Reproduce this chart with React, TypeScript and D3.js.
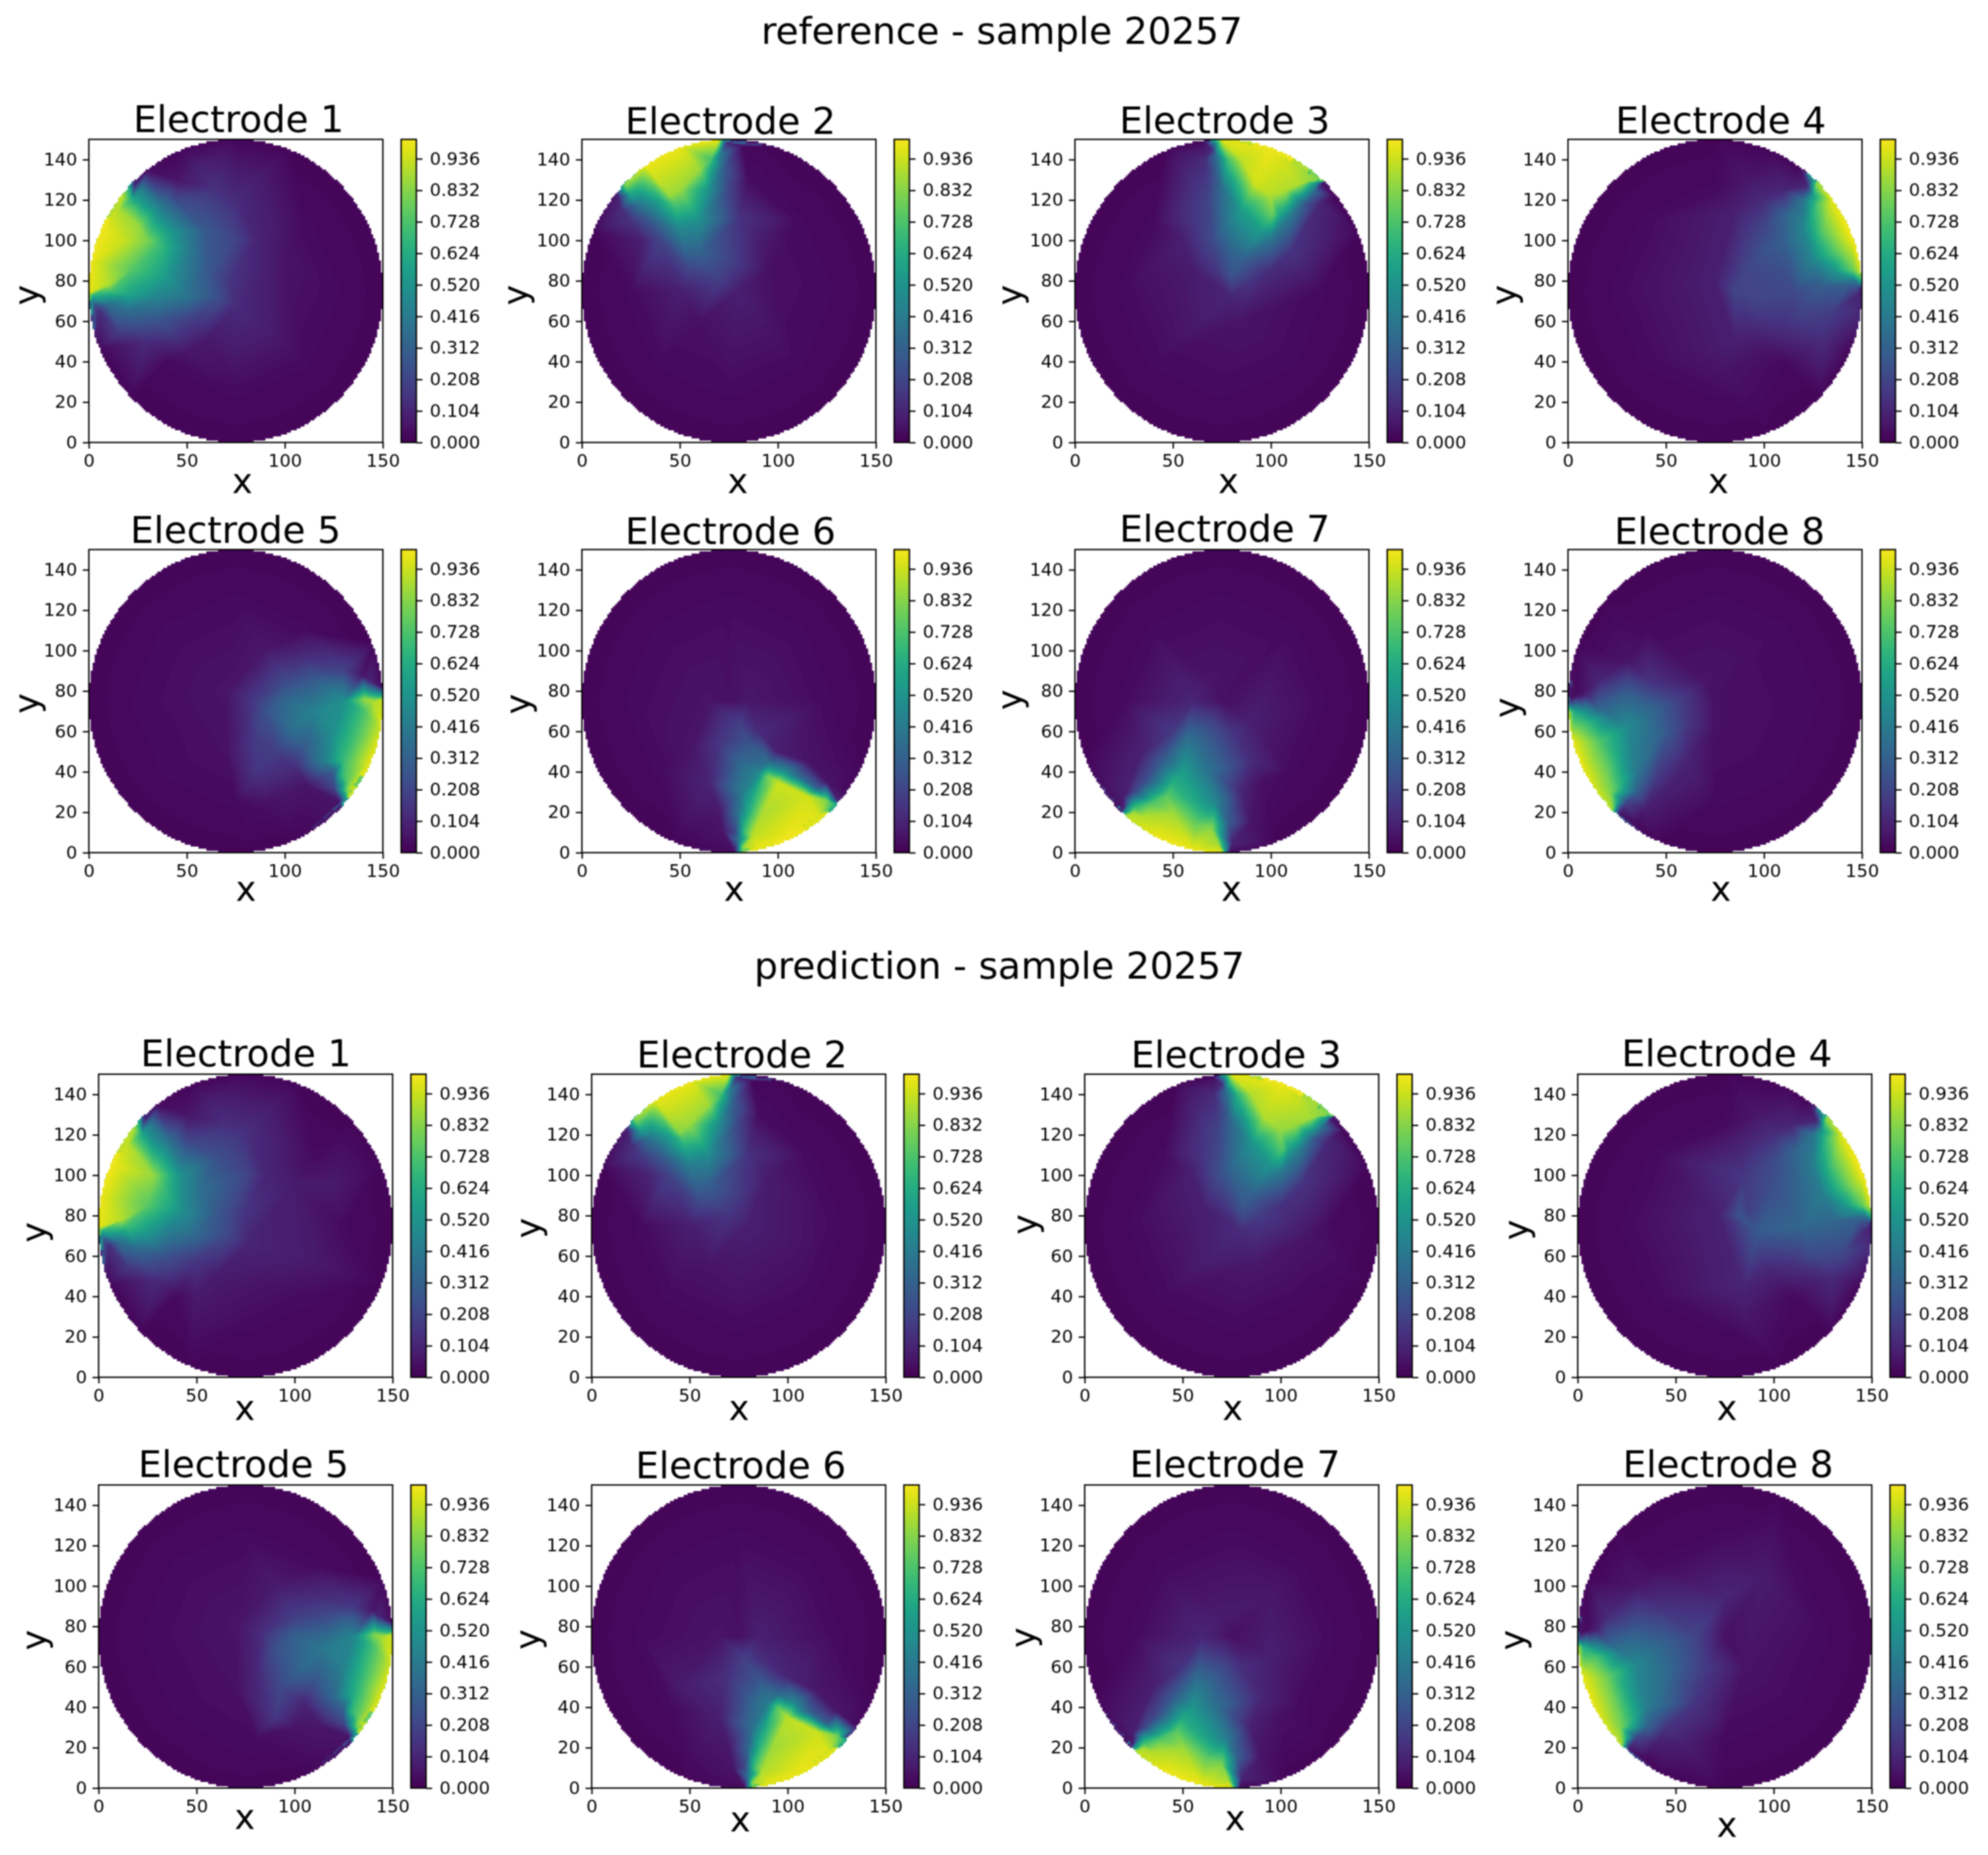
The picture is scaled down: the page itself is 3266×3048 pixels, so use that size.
import * as d3 from "d3";
import { useEffect, useRef } from "react";

type Sample = [number, number, number];

const electrodeNames = [
  "Electrode 1", "Electrode 2", "Electrode 3", "Electrode 4",
  "Electrode 5", "Electrode 6", "Electrode 7", "Electrode 8",
];
const axisTicksX = [0, 50, 100, 150];
const axisTicksY = [0, 20, 40, 60, 80, 100, 120, 140];
const colorbarTicks = [0, 0.104, 0.208, 0.312, 0.416, 0.52, 0.624, 0.728, 0.832, 0.936];

// low field shared by all panels, dropped where a panel has its own samples nearby
const backgroundSamples: Sample[] = [
  [152, 75, 0.01], [146, 104, 0.01], [129, 129, 0.01], [104, 146, 0.01],
  [75, 152, 0.01], [46, 146, 0.01], [21, 129, 0.01], [4, 104, 0.01],
  [-2, 75, 0.01], [4, 46, 0.01], [21, 21, 0.01], [46, 4, 0.01],
  [75, -2, 0.01], [104, 4, 0.01], [129, 21, 0.01], [146, 46, 0.01],
  [125, 75, 0.025], [110, 110, 0.025], [75, 125, 0.025], [40, 110, 0.025],
  [25, 75, 0.025], [40, 40, 0.025], [75, 25, 0.025], [110, 40, 0.025], [75, 75, 0.04],
];

// [x, y, value]
const ref1: Sample[] = [
  [21, 128, 0.55], [17, 122, 0.9], [8, 105, 0.97], [1, 90, 0.97], [0, 74, 0.96], [1, 72, 0.6], [2, 69, 0.3], [5, 65, 0.12],
  [23, 128, 0.05], [26, 125, 0.45], [22, 120, 0.62], [15, 115, 0.88], [20, 100, 0.9], [25, 108, 0.84], [30, 100, 0.8], [36, 97, 0.68],
  [23, 116, 0.72], [28, 118, 0.54], [37, 118, 0.38], [45, 120, 0.22], [44, 104, 0.5], [52, 95, 0.4], [60, 85, 0.28], [72, 80, 0.15],
  [40, 80, 0.52], [22, 86, 0.74], [10, 78, 0.88], [12, 75, 0.7], [20, 73, 0.58], [35, 72, 0.45], [50, 72, 0.38], [65, 72, 0.25],
  [75, 68, 0.12], [10, 68, 0.35], [20, 65, 0.35], [35, 62, 0.28], [50, 60, 0.18], [15, 55, 0.18], [30, 50, 0.12], [50, 45, 0.06],
  [65, 125, 0.14], [58, 135, 0.1], [45, 130, 0.05], [30, 135, 0.03], [75, 120, 0.12], [85, 100, 0.1], [100, 90, 0.05], [75, 100, 0.2],
  [60, 105, 0.27], [50, 115, 0.25], [60, 50, 0.06],
];
const ref2: Sample[] = [
  [20, 125, 0.5], [22, 128, 0.85], [32, 137, 0.97], [50, 147, 0.97], [70, 150, 0.97], [72, 150, 0.6], [74, 149, 0.1], [18, 122, 0.08],
  [25, 122, 0.55], [45, 122, 0.85], [47, 118, 0.72], [50, 125, 0.85], [60, 135, 0.85], [66, 140, 0.7], [70, 142, 0.45], [72, 135, 0.3],
  [75, 125, 0.2], [80, 110, 0.15], [90, 100, 0.08], [40, 120, 0.6], [30, 118, 0.4], [35, 110, 0.28], [50, 105, 0.45], [60, 110, 0.5],
  [65, 125, 0.5], [60, 95, 0.32], [55, 85, 0.2], [65, 85, 0.22], [70, 80, 0.18], [75, 90, 0.2], [40, 100, 0.2], [25, 110, 0.15],
  [30, 100, 0.08], [50, 75, 0.08], [80, 75, 0.08], [20, 115, 0.12], [85, 130, 0.03], [95, 85, 0.04], [60, 60, 0.04], [18, 128, 0.02], [82, 147, 0.02],
];
const ref3: Sample[] = [
  [72, 148, 0.5], [75, 150, 0.95], [100, 145, 0.97], [125, 130, 0.8], [124, 129, 0.5], [126, 128, 0.05], [70, 145, 0.12], [66, 140, 0.12],
  [72, 142, 0.35], [78, 140, 0.7], [85, 140, 0.9], [92, 128, 0.93], [100, 122, 0.88], [101, 113, 0.78], [108, 125, 0.88], [115, 128, 0.88],
  [122, 124, 0.35], [125, 118, 0.1], [118, 118, 0.25], [110, 112, 0.4], [105, 112, 0.55], [100, 100, 0.37], [95, 105, 0.55], [85, 115, 0.55], [80, 128, 0.55],
  [75, 125, 0.35], [68, 120, 0.2], [60, 110, 0.15], [70, 100, 0.22], [80, 95, 0.32], [85, 90, 0.3], [80, 82, 0.25], [90, 80, 0.15],
  [72, 85, 0.15], [100, 85, 0.12], [110, 95, 0.15], [55, 100, 0.08], [85, 60, 0.05], [60, 85, 0.07], [80, 72, 0.1], [65, 149, 0.02], [132, 122, 0.02],
];
const ref4: Sample[] = [
  [125, 130, 0.5], [127, 128, 0.85], [135, 120, 0.96], [145, 100, 0.97], [150, 85, 0.95], [150, 79, 0.6], [148, 78, 0.3], [150, 76, 0.08],
  [122, 127, 0.1], [110, 125, 0.1], [115, 122, 0.25], [120, 120, 0.38], [125, 122, 0.55], [128, 118, 0.75], [130, 105, 0.75], [140, 95, 0.82],
  [145, 85, 0.75], [142, 82, 0.5], [135, 85, 0.5], [125, 90, 0.45], [120, 105, 0.45], [110, 100, 0.3], [100, 95, 0.25], [90, 85, 0.2],
  [85, 75, 0.2], [95, 70, 0.2], [115, 75, 0.22], [130, 78, 0.3], [143, 78, 0.3], [147, 72, 0.1], [148, 65, 0.12], [135, 65, 0.18],
  [120, 65, 0.2], [130, 50, 0.12], [110, 55, 0.12], [95, 55, 0.1], [85, 50, 0.08], [90, 100, 0.16], [85, 115, 0.08], [100, 120, 0.12],
  [92, 130, 0.06], [75, 80, 0.08], [80, 35, 0.05], [112, 112, 0.33], [100, 108, 0.2], [118, 136, 0.02],
];
const ref5: Sample[] = [
  [150, 82, 0.03], [150, 78, 0.55], [147, 80, 0.4], [143, 85, 0.1], [150, 76, 0.9], [150, 60, 0.95], [143, 45, 0.95], [133, 30, 0.9],
  [130, 25, 0.5], [128, 25, 0.05], [141, 76, 0.85], [145, 75, 0.88], [140, 70, 0.7], [135, 55, 0.7], [130, 45, 0.68], [128, 38, 0.6],
  [132, 35, 0.75], [125, 32, 0.2], [125, 40, 0.3], [120, 45, 0.42], [110, 52, 0.28], [105, 42, 0.12], [100, 30, 0.06], [130, 75, 0.5],
  [125, 60, 0.5], [115, 70, 0.44], [100, 75, 0.33], [105, 62, 0.38], [90, 70, 0.25], [85, 75, 0.17], [100, 85, 0.22], [115, 88, 0.25],
  [130, 90, 0.2], [140, 88, 0.05], [110, 97, 0.12], [95, 50, 0.18], [85, 40, 0.15], [85, 55, 0.17], [80, 65, 0.12], [90, 30, 0.08], [70, 50, 0.04], [70, 80, 0.05],
  [90, 100, 0.06], [112, 33, 0.05], [85, 22, 0.03],
];
const ref6: Sample[] = [
  [80, 0, 0.5], [78, 0, 0.03], [82, 2, 0.85], [90, 3, 0.96], [105, 8, 0.97], [120, 18, 0.95], [130, 24, 0.6], [131, 25, 0.1],
  [95, 38, 0.78], [100, 35, 0.92], [115, 28, 0.93], [125, 26, 0.8], [120, 32, 0.3], [110, 38, 0.35], [103, 40, 0.5], [95, 45, 0.35],
  [90, 40, 0.45], [88, 30, 0.6], [85, 20, 0.62], [83, 10, 0.7], [92, 20, 0.87], [87, 8, 0.9], [80, 6, 0.4], [78, 10, 0.2], [80, 20, 0.38], [82, 30, 0.42],
  [80, 45, 0.32], [85, 55, 0.25], [80, 65, 0.18], [90, 60, 0.12], [70, 55, 0.15], [65, 35, 0.1], [70, 20, 0.06], [72, 10, 0.05],
  [100, 50, 0.08], [125, 35, 0.05], [115, 45, 0.05], [65, 75, 0.05], [85, 75, 0.06], [55, 50, 0.05], [136, 30, 0.02],
];
const ref7: Sample[] = [
  [25, 20, 0.45], [24, 21, 0.05], [26, 18, 0.9], [40, 8, 0.97], [60, 1, 0.97], [75, 0, 0.95], [77, 1, 0.5], [79, 0, 0.03],
  [30, 23, 0.65], [30, 20, 0.85], [28, 25, 0.4], [35, 18, 0.88], [40, 25, 0.72], [47, 28, 0.75], [50, 20, 0.85], [50, 35, 0.62],
  [55, 40, 0.55], [60, 25, 0.62], [62, 15, 0.75], [70, 12, 0.82], [73, 5, 0.85], [75, 8, 0.5], [80, 5, 0.1], [78, 15, 0.3],
  [72, 25, 0.45], [68, 40, 0.38], [65, 55, 0.32], [57, 55, 0.38], [45, 45, 0.3], [35, 35, 0.22], [30, 30, 0.2], [25, 28, 0.08],
  [70, 65, 0.2], [80, 60, 0.15], [90, 45, 0.12], [85, 30, 0.1], [90, 15, 0.05], [95, 35, 0.04], [50, 60, 0.17], [35, 50, 0.09],
  [70, 85, 0.05], [60, 75, 0.1], [90, 65, 0.08],
];
const ref8: Sample[] = [
  [0, 73, 0.5], [1, 76, 0.05], [3, 70, 0.6], [0, 70, 0.9], [2, 55, 0.97], [10, 35, 0.97], [22, 20, 0.9], [24, 20, 0.5],
  [26, 19, 0.05], [8, 70, 0.5], [10, 65, 0.65], [15, 55, 0.75], [20, 40, 0.78], [22, 30, 0.8], [25, 25, 0.6], [30, 25, 0.2],
  [35, 30, 0.3], [35, 40, 0.4], [25, 50, 0.6], [30, 62, 0.48], [22, 68, 0.38], [15, 72, 0.3], [10, 78, 0.1], [5, 78, 0.03],
  [15, 85, 0.1], [30, 80, 0.28], [45, 72, 0.3], [50, 60, 0.28], [55, 75, 0.2], [62, 65, 0.15], [42, 85, 0.14], [60, 45, 0.1],
  [45, 35, 0.15], [40, 22, 0.08], [35, 15, 0.03], [50, 30, 0.08], [75, 60, 0.04], [70, 85, 0.05], [30, 95, 0.05],
];

// same, read from the prediction row
const pred1: Sample[] = [
  [21, 128, 0.55], [18, 123, 0.88], [8, 105, 0.97], [1, 90, 0.97], [0, 74, 0.96], [1, 72, 0.6], [2, 69, 0.3], [5, 65, 0.12],
  [23, 128, 0.06], [26, 125, 0.42], [22, 120, 0.6], [15, 115, 0.9], [22, 108, 0.85], [28, 100, 0.84], [32, 95, 0.72], [25, 85, 0.74],
  [12, 78, 0.88], [14, 75, 0.7], [22, 73, 0.58], [28, 118, 0.48], [37, 118, 0.33], [45, 118, 0.2], [42, 100, 0.5], [52, 92, 0.36],
  [62, 82, 0.26], [74, 80, 0.15], [42, 82, 0.5], [36, 72, 0.42], [50, 70, 0.33], [65, 70, 0.22], [76, 66, 0.1], [10, 67, 0.35],
  [20, 63, 0.33], [35, 60, 0.25], [50, 58, 0.16], [15, 55, 0.17], [30, 48, 0.12], [50, 42, 0.07], [65, 125, 0.13], [58, 135, 0.09],
  [45, 130, 0.05], [30, 135, 0.03], [75, 122, 0.13], [85, 100, 0.1], [100, 95, 0.07], [120, 95, 0.07], [76, 100, 0.2], [60, 108, 0.25],
  [50, 115, 0.22], [60, 50, 0.07], [80, 45, 0.05], [115, 55, 0.06],
];
const pred2: Sample[] = [
  [20, 125, 0.5], [22, 128, 0.85], [32, 137, 0.96], [50, 147, 0.97], [70, 150, 0.96], [72, 150, 0.6], [74, 149, 0.1], [18, 122, 0.08],
  [25, 122, 0.55], [45, 121, 0.82], [47, 117, 0.68], [50, 125, 0.85], [60, 135, 0.85], [66, 140, 0.7], [70, 142, 0.45], [72, 135, 0.3],
  [75, 125, 0.2], [80, 110, 0.14], [90, 100, 0.07], [40, 120, 0.58], [30, 118, 0.38], [35, 110, 0.28], [50, 105, 0.42], [60, 110, 0.48],
  [65, 125, 0.48], [60, 95, 0.3], [55, 85, 0.2], [65, 85, 0.2], [70, 80, 0.15], [75, 90, 0.17], [40, 100, 0.2], [25, 110, 0.17],
  [30, 100, 0.1], [50, 75, 0.08], [80, 75, 0.08], [20, 115, 0.12], [85, 130, 0.03], [105, 65, 0.05], [60, 55, 0.05], [75, 45, 0.05], [18, 128, 0.02], [82, 147, 0.02],
];
const pred3: Sample[] = [
  [72, 148, 0.5], [75, 150, 0.95], [100, 145, 0.97], [125, 130, 0.8], [124, 129, 0.5], [126, 128, 0.05], [70, 145, 0.12], [66, 140, 0.12],
  [72, 142, 0.35], [78, 140, 0.65], [85, 140, 0.88], [92, 128, 0.88], [100, 122, 0.84], [101, 113, 0.74], [108, 125, 0.85], [115, 128, 0.86],
  [122, 124, 0.35], [125, 118, 0.1], [118, 118, 0.25], [110, 112, 0.4], [105, 112, 0.52], [100, 100, 0.37], [95, 105, 0.52], [85, 115, 0.5], [80, 128, 0.5],
  [75, 125, 0.33], [68, 120, 0.2], [60, 110, 0.15], [70, 100, 0.25], [80, 95, 0.32], [85, 90, 0.3], [80, 82, 0.25], [90, 80, 0.17],
  [72, 85, 0.16], [100, 85, 0.14], [110, 95, 0.15], [55, 100, 0.08], [85, 55, 0.06], [60, 85, 0.08], [115, 70, 0.05], [80, 72, 0.12], [65, 149, 0.02], [132, 122, 0.02],
];
const pred4: Sample[] = [
  [125, 130, 0.5], [127, 128, 0.85], [135, 120, 0.96], [145, 100, 0.97], [150, 85, 0.95], [150, 79, 0.6], [148, 78, 0.3], [150, 76, 0.08],
  [122, 127, 0.1], [110, 125, 0.1], [115, 122, 0.28], [120, 120, 0.38], [125, 122, 0.55], [128, 118, 0.72], [130, 105, 0.72], [140, 95, 0.82],
  [145, 85, 0.75], [142, 82, 0.5], [135, 85, 0.5], [125, 90, 0.42], [120, 105, 0.42], [110, 100, 0.3], [100, 95, 0.24], [87, 83, 0.18],
  [82, 80, 0.25], [92, 72, 0.28], [115, 75, 0.33], [130, 78, 0.33], [143, 78, 0.3], [147, 72, 0.1], [148, 65, 0.13], [135, 62, 0.22],
  [120, 60, 0.22], [130, 50, 0.12], [110, 55, 0.13], [95, 55, 0.12], [85, 45, 0.1], [85, 100, 0.16], [85, 115, 0.1], [100, 120, 0.13],
  [92, 130, 0.06], [72, 80, 0.09], [85, 30, 0.06], [112, 112, 0.33], [100, 108, 0.22], [118, 136, 0.02],
];
const pred5: Sample[] = [
  [150, 82, 0.03], [150, 78, 0.55], [147, 80, 0.4], [143, 85, 0.1], [150, 76, 0.92], [150, 60, 0.95], [143, 45, 0.93], [133, 30, 0.88],
  [130, 25, 0.5], [128, 25, 0.05], [141, 76, 0.82], [145, 75, 0.88], [140, 70, 0.7], [135, 55, 0.68], [130, 45, 0.62], [128, 38, 0.6],
  [132, 35, 0.75], [125, 32, 0.2], [125, 40, 0.32], [120, 45, 0.33], [110, 52, 0.25], [105, 42, 0.1], [100, 30, 0.05], [130, 75, 0.45],
  [125, 60, 0.44], [115, 70, 0.4], [100, 75, 0.3], [105, 60, 0.34], [90, 70, 0.24], [83, 78, 0.12], [100, 85, 0.18], [120, 88, 0.2],
  [130, 90, 0.16], [140, 88, 0.06], [110, 95, 0.12], [93, 50, 0.22], [90, 35, 0.16], [80, 55, 0.1], [70, 50, 0.04], [70, 80, 0.05],
  [90, 100, 0.07], [112, 32, 0.06], [80, 25, 0.03],
];
const pred6: Sample[] = [
  [80, 0, 0.5], [78, 0, 0.03], [82, 2, 0.85], [90, 3, 0.95], [105, 8, 0.96], [120, 18, 0.95], [130, 24, 0.6], [131, 25, 0.1],
  [95, 40, 0.75], [100, 35, 0.9], [115, 28, 0.92], [125, 26, 0.8], [120, 32, 0.3], [110, 38, 0.33], [103, 42, 0.48], [95, 47, 0.33],
  [90, 42, 0.42], [88, 30, 0.58], [85, 20, 0.62], [83, 10, 0.7], [92, 20, 0.85], [87, 8, 0.88], [80, 6, 0.4], [78, 10, 0.2], [80, 20, 0.33], [82, 30, 0.36],
  [80, 45, 0.28], [85, 55, 0.25], [78, 65, 0.18], [90, 62, 0.12], [68, 55, 0.13], [65, 35, 0.08], [70, 20, 0.06], [72, 10, 0.05],
  [100, 55, 0.1], [125, 38, 0.06], [115, 48, 0.06], [65, 75, 0.05], [85, 75, 0.08], [45, 50, 0.07], [100, 75, 0.06], [136, 30, 0.02],
];
const pred7: Sample[] = [
  [25, 20, 0.45], [24, 21, 0.05], [26, 18, 0.9], [40, 8, 0.97], [60, 1, 0.97], [75, 0, 0.95], [77, 1, 0.5], [79, 0, 0.03],
  [30, 23, 0.65], [30, 20, 0.85], [28, 25, 0.4], [35, 18, 0.88], [40, 25, 0.72], [47, 28, 0.75], [50, 20, 0.85], [50, 35, 0.6],
  [55, 40, 0.52], [60, 25, 0.6], [62, 15, 0.75], [70, 12, 0.8], [73, 5, 0.85], [75, 8, 0.5], [80, 5, 0.1], [78, 15, 0.3],
  [72, 25, 0.42], [68, 40, 0.35], [65, 55, 0.3], [57, 55, 0.34], [45, 45, 0.28], [35, 35, 0.2], [30, 30, 0.2], [25, 28, 0.08],
  [70, 62, 0.2], [80, 60, 0.13], [90, 45, 0.1], [85, 30, 0.08], [90, 15, 0.05], [100, 35, 0.04], [50, 60, 0.15], [35, 50, 0.08],
  [70, 85, 0.07], [60, 75, 0.1], [95, 65, 0.08], [95, 95, 0.06],
];
const pred8: Sample[] = [
  [0, 73, 0.5], [1, 76, 0.05], [3, 70, 0.6], [0, 70, 0.9], [2, 55, 0.97], [10, 35, 0.97], [22, 20, 0.9], [24, 20, 0.5],
  [26, 19, 0.05], [8, 70, 0.5], [10, 65, 0.7], [15, 55, 0.78], [20, 40, 0.78], [22, 30, 0.8], [25, 25, 0.6], [30, 25, 0.2],
  [35, 30, 0.32], [35, 40, 0.42], [25, 50, 0.58], [30, 62, 0.45], [22, 68, 0.38], [15, 72, 0.3], [10, 78, 0.1], [5, 78, 0.03],
  [15, 85, 0.12], [30, 78, 0.28], [45, 72, 0.3], [50, 60, 0.3], [60, 75, 0.2], [65, 60, 0.17], [45, 88, 0.15], [60, 42, 0.15],
  [45, 30, 0.15], [40, 22, 0.08], [35, 15, 0.03], [55, 22, 0.08], [85, 60, 0.05], [75, 95, 0.1], [30, 100, 0.06], [95, 105, 0.07],
];

const refPanels = [ref1, ref2, ref3, ref4, ref5, ref6, ref7, ref8];
const predPanels = [pred1, pred2, pred3, pred4, pred5, pred6, pred7, pred8];

const GRID = 150;
const levels = d3.range(128).map((i) => i / 128);

// linear interpolation over a Delaunay mesh of the samples, on the 150x150 image grid
function rasterize(samples: Sample[]) {
  const nodes = [
    ...samples,
    ...backgroundSamples.filter(
      (b) => !samples.some((s) => Math.hypot(s[0] - b[0], s[1] - b[1]) < 10)
    ),
  ];
  const delaunay = d3.Delaunay.from(nodes, (d) => d[0], (d) => d[1]);
  const grid = new Array(GRID * GRID).fill(NaN);
  const tri = delaunay.triangles;
  for (let t = 0; t < tri.length; t += 3) {
    const [ax, ay, av] = nodes[tri[t]];
    const [bx, by, bv] = nodes[tri[t + 1]];
    const [cx, cy, cv] = nodes[tri[t + 2]];
    const det = (by - cy) * (ax - cx) + (cx - bx) * (ay - cy);
    if (Math.abs(det) < 1e-9) continue;
    const i0 = Math.max(0, Math.floor(Math.min(ax, bx, cx) - 1));
    const i1 = Math.min(GRID - 1, Math.ceil(Math.max(ax, bx, cx)));
    const j0 = Math.max(0, Math.floor(Math.min(ay, by, cy) - 1));
    const j1 = Math.min(GRID - 1, Math.ceil(Math.max(ay, by, cy)));
    for (let j = j0; j <= j1; j++) {
      for (let i = i0; i <= i1; i++) {
        const px = i + 0.5;
        const py = j + 0.5;
        const w0 = ((by - cy) * (px - cx) + (cx - bx) * (py - cy)) / det;
        const w1 = ((cy - ay) * (px - cx) + (ax - cx) * (py - cy)) / det;
        const w2 = 1 - w0 - w1;
        if (w0 >= -1e-9 && w1 >= -1e-9 && w2 >= -1e-9) {
          grid[j * GRID + i] = w0 * av + w1 * bv + w2 * cv;
        }
      }
    }
  }
  for (let j = 0; j < GRID; j++) {
    for (let i = 0; i < GRID; i++) {
      if (Number.isNaN(grid[j * GRID + i])) {
        grid[j * GRID + i] = nodes[delaunay.find(i + 0.5, j + 0.5)][2];
      }
    }
  }
  return grid;
}

// pixel layout, one entry per panel
const AXES_W = 483;
const AXES_H = 498;
const colLeftRef = [146, 956, 1766, 2576];
const colLeftPred = [162, 972, 1782, 2592];
const rowTops = [229, 903, 1765, 2440];

const titleX = [
  [392, 1200, 2012, 2827], [387, 1200, 2012, 2825],
  [404, 1219, 2031, 2837], [400, 1217, 2029, 2839],
];
const titleY = [
  [217, 220, 219, 219], [892, 894, 890, 894],
  [1752, 1754, 1754, 1752], [2427, 2429, 2427, 2427],
];
const xLabelX = [
  [398, 1212, 2018, 2823], [404, 1206, 2023, 2827],
  [402, 1214, 2025, 2837], [402, 1216, 2029, 2837],
];
const xLabelY = [
  [810, 810, 810, 810], [1480, 1480, 1480, 1480],
  [2333, 2333, 2333, 2333], [3005, 3009, 3007, 3018],
];
const yLabelX = [
  [63, 866, 1678, 2490], [63, 870, 1678, 2495],
  [75, 887, 1703, 2510], [75, 886, 1700, 2504],
];
const yLabelY = [
  [485, 485, 485, 485], [1156, 1157, 1150, 1163],
  [2025, 2018, 2012, 2021], [2695, 2694, 2691, 2695],
];

const FONT = "'DejaVu Sans', sans-serif";

export default function App() {
  const ref = useRef<SVGSVGElement>(null);

  useEffect(() => {
    const svg = d3.select(ref.current);
    svg.selectAll("*").remove();

    const xScale = d3.scaleLinear().domain([0, 150]).range([0, AXES_W]);
    const yScale = d3.scaleLinear().domain([0, 150]).range([AXES_H, 0]);
    const cScale = d3.scaleLinear().domain([0, 1]).range([AXES_H, 0]);

    const defs = svg.append("defs");

    // the disc is cut out of the 150x150 image, so its rim is stepped
    let clip = "";
    for (let j = 0; j < GRID; j++) {
      const half = Math.sqrt(Math.max(0, 75 * 75 - (j + 0.5 - 75) ** 2));
      const x0 = Math.round(75 - half);
      const x1 = Math.round(75 + half);
      if (x1 > x0) {
        clip += `M${xScale(x0)},${yScale(j + 1)}H${xScale(x1)}V${yScale(j)}H${xScale(x0)}Z`;
      }
    }
    defs.append("clipPath").attr("id", "disc").append("path").attr("d", clip);

    const gradient = defs
      .append("linearGradient")
      .attr("id", "viridisBar")
      .attr("x1", 0)
      .attr("x2", 0)
      .attr("y1", 1)
      .attr("y2", 0);
    d3.range(33).forEach((i) => {
      gradient
        .append("stop")
        .attr("offset", i / 32)
        .attr("stop-color", d3.interpolateViridis((i / 32) * 0.985));
    });

    const path = d3.geoPath(
      d3.geoTransform({
        point(x, y) {
          this.stream.point(xScale(x), yScale(y));
        },
      })
    );
    const contours = d3.contours().size([GRID, GRID]).thresholds(levels);

    const drawPanel = (
      samples: Sample[],
      name: string,
      left: number,
      top: number,
      row: number,
      col: number
    ) => {
      const g = svg.append("g").attr("transform", `translate(${left},${top})`);

      const field = g.append("g").attr("clip-path", "url(#disc)");
      contours(rasterize(samples)).forEach((c) => {
        if (!c.coordinates.length) return;
        field
          .append("path")
          .attr("d", path(c))
          .attr("fill", d3.interpolateViridis(c.value + 1 / 256));
      });

      g.append("rect")
        .attr("width", AXES_W)
        .attr("height", AXES_H)
        .attr("fill", "none")
        .attr("stroke", "#000")
        .attr("stroke-width", 2.3);

      const xAxis = g
        .append("g")
        .attr("transform", `translate(0,${AXES_H})`)
        .call(d3.axisBottom(xScale).tickValues(axisTicksX).tickSize(10).tickPadding(9));
      const yAxis = g
        .append("g")
        .call(d3.axisLeft(yScale).tickValues(axisTicksY).tickSize(10).tickPadding(9));

      // colorbar
      const bar = g.append("g").attr("transform", `translate(513,0)`);
      bar
        .append("rect")
        .attr("width", 25)
        .attr("height", AXES_H)
        .attr("fill", "url(#viridisBar)")
        .attr("stroke", "#000")
        .attr("stroke-width", 2.3);
      const barAxis = bar
        .append("g")
        .attr("transform", "translate(25,0)")
        .call(
          d3
            .axisRight(cScale)
            .tickValues(colorbarTicks)
            .tickFormat(d3.format(".3f"))
            .tickSize(10)
            .tickPadding(12)
        );

      [xAxis, yAxis, barAxis].forEach((a) => {
        a.select(".domain").remove();
        a.selectAll("line").attr("stroke-width", 2.3);
        a.selectAll("text").attr("font-family", FONT).attr("font-size", 29);
      });

      svg
        .append("text")
        .attr("x", titleX[row][col])
        .attr("y", titleY[row][col])
        .attr("text-anchor", "middle")
        .attr("font-family", FONT)
        .attr("font-size", 61)
        .text(name);
      svg
        .append("text")
        .attr("x", xLabelX[row][col])
        .attr("y", xLabelY[row][col])
        .attr("text-anchor", "middle")
        .attr("font-family", FONT)
        .attr("font-size", 57)
        .text("x");
      svg
        .append("text")
        .attr(
          "transform",
          `translate(${yLabelX[row][col]},${yLabelY[row][col]}) rotate(-90)`
        )
        .attr("text-anchor", "middle")
        .attr("font-family", FONT)
        .attr("font-size", 57)
        .text("y");
    };

    refPanels.forEach((samples, i) => {
      const row = Math.floor(i / 4);
      const col = i % 4;
      drawPanel(samples, electrodeNames[i], colLeftRef[col], rowTops[row], row, col);
    });
    predPanels.forEach((samples, i) => {
      const row = 2 + Math.floor(i / 4);
      const col = i % 4;
      drawPanel(samples, electrodeNames[i], colLeftPred[col], rowTops[row], row, col);
    });

    svg
      .append("text")
      .attr("x", 1646)
      .attr("y", 72)
      .attr("text-anchor", "middle")
      .attr("font-family", FONT)
      .attr("font-size", 61.3)
      .text("reference - sample 20257");
    svg
      .append("text")
      .attr("x", 1642)
      .attr("y", 1608)
      .attr("text-anchor", "middle")
      .attr("font-family", FONT)
      .attr("font-size", 61.3)
      .text("prediction - sample 20257");
  }, []);

  // the reference is an enlarged bitmap, hence the slight softening
  return (
    <svg
      ref={ref}
      width={3266}
      height={3048}
      style={{ position: "absolute", left: 0, top: 0, background: "#fff", filter: "blur(0.8px)" }}
    />
  );
}
